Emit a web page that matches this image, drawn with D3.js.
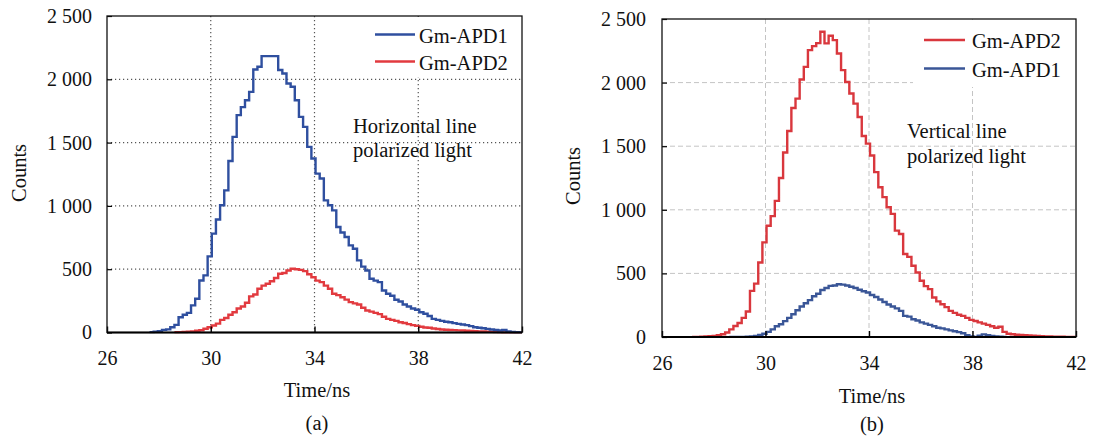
<!DOCTYPE html>
<html><head><meta charset="utf-8">
<script src="https://cdn.jsdelivr.net/npm/d3@7/dist/d3.min.js"></script>
<style>
html,body{margin:0;padding:0;background:#fff;}
</style>
</head><body>
<svg id="chart" width="1093" height="441"></svg>
<script>
// ---- data ----
const binWidth = 0.16; // ns, width of each histogram bin
const times = [
 27.00,27.16,27.32,27.48,27.64,27.80,27.96,28.12,28.28,28.44,
 28.60,28.76,28.92,29.08,29.24,29.40,29.56,29.72,29.88,30.04,
 30.20,30.36,30.52,30.68,30.84,31.00,31.16,31.32,31.48,31.64,
 31.80,31.96,32.12,32.28,32.44,32.60,32.76,32.92,33.08,33.24,
 33.40,33.56,33.72,33.88,34.04,34.20,34.36,34.52,34.68,34.84,
 35.00,35.16,35.32,35.48,35.64,35.80,35.96,36.12,36.28,36.44,
 36.60,36.76,36.92,37.08,37.24,37.40,37.56,37.72,37.88,38.04,
 38.20,38.36,38.52,38.68,38.84,39.00,39.16,39.32,39.48,39.64,
 39.80,39.96,40.12,40.28,40.44,40.60,40.76,40.92,41.08,41.24,
 41.40,41.56,41.72,41.88];
const xTicks = [26, 30, 34, 38, 42];
const yTicks = [0, 500, 1000, 1500, 2000, 2500];

// (a) horizontal line polarized light
const hApd1 = [
 null,null,null,null,3,6,10,21,25,42,
 60,121,140,155,214,266,411,451,601,781,
 892,1005,1123,1355,1545,1717,1780,1835,1901,2078,
 2099,2183,2183,2183,2183,2073,2046,1967,1941,1835,
 1703,1624,1466,1374,1255,1216,1044,1005,965,833,
 790,754,688,662,570,520,490,425,410,398,
 332,306,290,259,245,221,205,190,180,160,
 148,130,108,100,92,85,81,74,68,63,
 58,50,42,38,33,29,24,20,16,20,
 8,4,2,1];
const hApd2 = [
 null,null,null,null,null,null,null,null,null,null,
 2,3,4,6,9,14,18,30,42,55,
 70,100,115,140,160,190,205,235,285,300,
 345,370,385,405,430,464,470,490,504,500,
 495,485,460,437,410,398,370,345,306,295,
 279,260,240,230,221,195,174,165,155,145,
 125,108,100,92,81,75,66,58,52,46,
 40,37,32,28,24,22,20,19,17,16,
 14,12,11,9,8,6,5,3,1,0,
 0,0,0,0];
// (b) vertical line polarized light
const vApd2 = [
 null,0,1,2,4,6,8,14,22,35,
 60,87,110,150,200,363,420,586,744,875,
 950,1070,1250,1450,1620,1800,1874,2024,2124,2255,
 2287,2310,2400,2308,2368,2334,2229,2098,2005,1914,
 1835,1729,1580,1520,1427,1296,1177,1100,1020,968,
 836,810,652,630,560,507,442,400,376,310,
 280,258,235,205,190,175,166,150,135,126,
 115,105,95,85,73,80,40,26,22,18,
 16,14,12,10,8,7,5,4,3,2,
 2,1,1,0];
const vApd1 = [
 null,null,null,null,null,null,null,null,null,null,
 0,0,0,0,2,4,8,16,26,40,
 60,85,100,125,150,179,210,240,265,290,
 320,340,370,385,402,405,415,412,405,395,
 385,372,360,350,330,315,295,275,255,240,
 225,205,166,160,140,130,115,105,95,85,
 73,68,60,52,45,38,30,15,5,0,
 10,21,15,8,5,3,0,null,null,null,
 null,null,null,null,null,null,null,null,null,null,
 null,null,null,null];

const BLUE = "#2f4f9f", RED = "#e23a3f";
const BLUE_B = "#3a5697", RED_B = "#d9373d";
const FONT = "'Liberation Serif', 'Times New Roman', Tinos, 'DejaVu Serif', 'Noto Serif', serif";

const panels = [
  { id:"a", left:107, right:522, bottom:332.5, top:16,
    grid:{stroke:"#555", dash:"1.2,2.8", width:1.2},
    series:[{name:"Gm-APD1", values:hApd1, color:BLUE},
            {name:"Gm-APD2", values:hApd2, color:RED}],
    legendBox:[363,77], legendLineX:[375,415], legendY:[34.5,61.5], legendTextX:419,
    note:["Horizontal line","polarized light"], noteX:353, noteY:[133,157],
    xLabelY:365, yLabelX:92, countsX:19, countsY:173, titleX:317, titleY:397, tagY:430 },
  { id:"b", left:662, right:1076, bottom:337, top:19,
    grid:{stroke:"#c4c4c4", dash:"5,3", width:1},
    series:[{name:"Gm-APD2", values:vApd2, color:RED_B},
            {name:"Gm-APD1", values:vApd1, color:BLUE_B}],
    legendBox:[913,87], legendLineX:[924,965], legendY:[40,68.5], legendTextX:972,
    note:["Vertical line","polarized light"], noteX:907, noteY:[138,163],
    xLabelY:370, yLabelX:646, countsX:573, countsY:176, titleX:872, titleY:403, tagY:431 }
];

const svg = d3.select("#chart");
const fmt = d => d3.format(",")(d).replace(/,/g, " ");

panels.forEach(p => {
  const x = d3.scaleLinear().domain([26, 42]).range([p.left, p.right]);
  const y = d3.scaleLinear().domain([0, 2500]).range([p.bottom, p.top]);
  const g = svg.append("g");

  // grid
  g.append("g").selectAll("line").data(yTicks.slice(1, -1)).join("line")
    .attr("x1", p.left).attr("x2", p.right).attr("y1", d => y(d)).attr("y2", d => y(d))
    .attr("stroke", p.grid.stroke).attr("stroke-width", p.grid.width).attr("stroke-dasharray", p.grid.dash);
  g.append("g").selectAll("line").data(xTicks.slice(1, -1)).join("line")
    .attr("x1", d => x(d)).attr("x2", d => x(d)).attr("y1", p.top).attr("y2", p.bottom)
    .attr("stroke", p.grid.stroke).attr("stroke-width", p.grid.width).attr("stroke-dasharray", p.grid.dash);

  // legend background covers grid
  g.append("rect").attr("x", p.legendBox[0]).attr("y", p.top + 1)
    .attr("width", p.right - p.legendBox[0] - 1).attr("height", p.legendBox[1] - p.top - 1)
    .attr("fill", "#fff");

  const clipId = "clip-" + p.id;
  svg.append("clipPath").attr("id", clipId).append("rect")
    .attr("x", p.left).attr("y", p.top).attr("width", p.right - p.left).attr("height", p.bottom - p.top + 1);

  const line = d3.line().defined(d => d.v != null)
    .x(d => x(d.t)).y(d => y(d.v)).curve(d3.curveStepAfter);

  [...p.series].reverse().forEach(s => {
    const pts = times.map((t, i) => ({t, v: s.values[i]}));
    let lastIdx = -1;
    pts.forEach((d, i) => { if (d.v != null) lastIdx = i; });
    const withEnd = pts.slice(0, lastIdx + 1).concat([{t: times[lastIdx] + binWidth, v: s.values[lastIdx]}]);
    g.append("path").datum(withEnd).attr("clip-path", `url(#${clipId})`)
      .attr("d", line).attr("fill", "none").attr("stroke", s.color)
      .attr("stroke-width", 2.4).attr("stroke-linejoin", "miter");
  });

  const xAxis = d3.axisBottom(x).tickValues(xTicks).tickSize(-6).tickPadding(p.xLabelY - p.bottom - 14.2);
  const gx = g.append("g").attr("transform", `translate(0,${p.bottom})`).call(xAxis);
  gx.select(".domain").remove();
  gx.selectAll(".tick line").attr("stroke", "#000").attr("stroke-width", 1.4);
  gx.selectAll(".tick text").attr("font-size", 20).attr("fill", "#111");

  const yAxis = d3.axisLeft(y).tickValues(yTicks).tickFormat(fmt).tickSize(-5).tickPadding(p.left - p.yLabelX);
  const gy = g.append("g").attr("transform", `translate(${p.left},0)`).call(yAxis);
  gy.select(".domain").remove();
  gy.selectAll(".tick line").attr("stroke", "#000").attr("stroke-width", 1.2);
  gy.selectAll(".tick text").attr("font-size", 20).attr("fill", "#111");

  g.append("rect").attr("x", p.left).attr("y", p.top).attr("width", p.right - p.left).attr("height", p.bottom - p.top)
    .attr("fill", "none").attr("stroke", "#111").attr("stroke-width", 1.3);
  g.append("line").attr("x1", p.left).attr("x2", p.right).attr("y1", p.bottom).attr("y2", p.bottom)
    .attr("stroke", "#000").attr("stroke-width", 2);

  p.series.forEach((s, i) => {
    g.append("line").attr("x1", p.legendLineX[0]).attr("x2", p.legendLineX[1])
      .attr("y1", p.legendY[i]).attr("y2", p.legendY[i])
      .attr("stroke", s.color).attr("stroke-width", 2.6);
    g.append("text").attr("x", p.legendTextX).attr("y", p.legendY[i] + 8)
      .attr("font-size", 20.5).text(s.name);
  });

  p.note.forEach((t, i) => {
    g.append("text").attr("x", p.noteX).attr("y", p.noteY[i]).attr("font-size", 20.5).text(t);
  });

  g.append("text").attr("transform", `translate(${p.countsX + 7},${p.countsY}) rotate(-90)`)
    .attr("text-anchor", "middle").attr("font-size", 20.5).text("Counts");
  g.append("text").attr("x", p.titleX).attr("y", p.titleY).attr("text-anchor", "middle")
    .attr("font-size", 20.5).text("Time/ns");
  g.append("text").attr("x", p.titleX).attr("y", p.tagY).attr("text-anchor", "middle")
    .attr("font-size", 20.5).text(`(${p.id})`);
});

svg.selectAll("text").style("font-family", FONT).attr("fill", "#111");
</script>
</body></html>
